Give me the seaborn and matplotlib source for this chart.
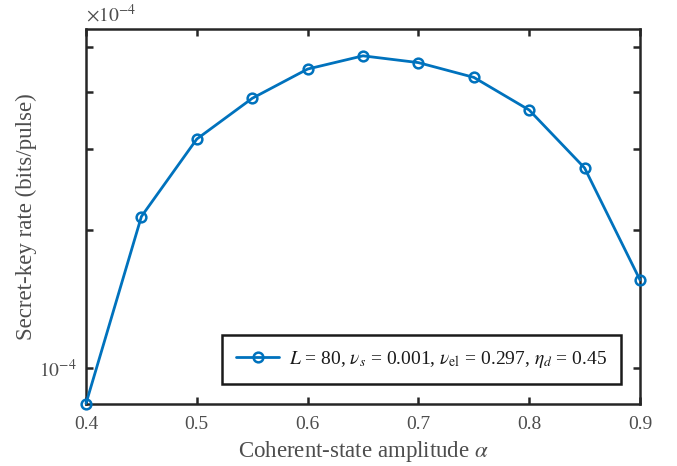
import numpy as np
import pandas as pd
import matplotlib
matplotlib.use("Agg")
import matplotlib.pyplot as plt
import seaborn as sns
from matplotlib.ticker import FixedLocator, NullFormatter, FixedFormatter

alpha = [0.40, 0.45, 0.50, 0.55, 0.60, 0.65, 0.70, 0.75, 0.80, 0.85, 0.90]
rate = [0.838e-4, 2.14e-4, 3.156e-4, 3.871e-4, 4.483e-4, 4.79e-4, 4.63e-4,
        4.30e-4, 3.65e-4, 2.73e-4, 1.557e-4]
x_ticks = [0.4, 0.5, 0.6, 0.7, 0.8, 0.9]
x_tick_labels = ["0.4", "0.5", "0.6", "0.7", "0.8", "0.9"]
legend_label = r"$L$ = 80, $\nu_s$ = 0.001, $\nu_{\rm el}$ = 0.297, $\eta_d$ = 0.45"

sns.set_style("ticks")
plt.rcParams['font.family'] = ['Liberation Serif', 'DejaVu Serif']
plt.rcParams['mathtext.fontset'] = 'stix'

df = pd.DataFrame({"alpha": alpha, "rate": rate})

fig = plt.figure(figsize=(6.77, 4.66), dpi=100)
ax = fig.add_axes([86/677, 1-403.5/466, (640-86)/677, (403.5-29)/466])

blue = "#0072BD"
sns.lineplot(data=df, x="alpha", y="rate", ax=ax, color=blue, linewidth=2.0,
             marker="o", markersize=7, markerfacecolor="none",
             markeredgecolor=blue, markeredgewidth=1.8, label=legend_label)
for ln in ax.lines:
    ln.set_clip_on(False)
    ln.set_zorder(5)

ax.set_yscale("log")
ax.set_xlim(0.4, 0.9)
ax.set_ylim(0.838e-4, 5.48e-4)

ax.xaxis.set_major_locator(FixedLocator(x_ticks))
ax.xaxis.set_major_formatter(FixedFormatter(x_tick_labels))
ax.yaxis.set_major_locator(FixedLocator([1e-4]))
ax.yaxis.set_major_formatter(FixedFormatter([r"$10^{-4}$"]))
ax.yaxis.set_minor_locator(FixedLocator([2e-4, 3e-4, 4e-4, 5e-4]))
ax.yaxis.set_minor_formatter(NullFormatter())
ax.xaxis.set_minor_locator(FixedLocator([]))

spine_col = "#262626"
for s in ax.spines.values():
    s.set_visible(True)
    s.set_linewidth(1.8)
    s.set_color(spine_col)

ax.tick_params(which="both", direction="in", top=True, right=True,
               colors=spine_col, labelcolor="#4d4d4d", width=1.8)
ax.tick_params(which="major", length=5, labelsize=14)
ax.tick_params(axis="x", which="major", pad=9)
ax.tick_params(axis="y", which="major", pad=7)
ax.tick_params(which="minor", length=5)

ax.set_xlabel(r"Coherent-state amplitude $\alpha$", fontsize=16.5, color="#4d4d4d",
              labelpad=4)
ax.set_ylabel("Secret-key rate (bits/pulse)", fontsize=16.5, color="#4d4d4d",
              labelpad=1)

ax.text(0.0, 1.01, r"$\times10^{-4}$", transform=ax.transAxes, fontsize=14,
        color="#4d4d4d", ha="left", va="bottom")

leg = ax.legend(loc="lower right", fontsize=14, frameon=True, fancybox=False,
                edgecolor="#1a1a1a", framealpha=1, borderpad=0.72,
                handlelength=2.2, handletextpad=0.5, borderaxespad=0,
                bbox_to_anchor=(1 - 19/554, 19.5/374.5))
leg.get_frame().set_linewidth(1.8)
for t in leg.get_texts():
    t.set_color("#1a1a1a")

fig.savefig("out.png", dpi=100)
